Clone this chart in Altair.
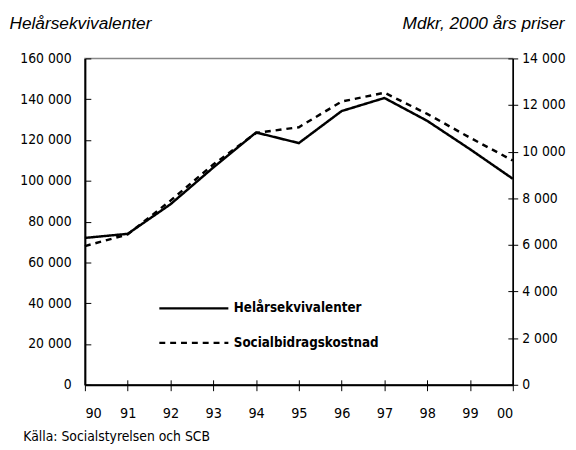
import altair as alt
import pandas as pd

years = [1990, 1991, 1992, 1993, 1994, 1995, 1996, 1997, 1998, 1999, 2000]
helarsekvivalenter = [72000, 74000, 88500, 106500, 123700, 118500, 134200, 140600, 129400, 115500, 101000]
socialbidragskostnad = [5950, 6450, 7900, 9450, 10800, 11050, 12150, 12530, 11620, 10600, 9620]
series_names = ["Helårsekvivalenter", "Socialbidragskostnad"]
left_ticks = [0, 20000, 40000, 60000, 80000, 100000, 120000, 140000, 160000]
right_ticks = [0, 2000, 4000, 6000, 8000, 10000, 12000, 14000]

df = pd.DataFrame({"year": years, "helar": helarsekvivalenter, "kostnad": socialbidragskostnad})
df["s1"] = series_names[0]
df["s2"] = series_names[1]

W, H = 434, 331
NARROW = "DejaVu Sans Condensed, sans-serif"
ITALIC = "Liberation Sans, Arial, sans-serif"
num_expr = "replace(format(datum.value, ','), ',', ' ')"

xscale = alt.Scale(domain=[1990, 2000], nice=False, zero=False)
lscale = alt.Scale(domain=[0, 160000], nice=False)
rscale = alt.Scale(domain=[0, 14000], nice=False)

x_main = alt.X(
    "year:Q", scale=xscale,
    axis=alt.Axis(
        orient="bottom", values=years, format="d", labelExpr="substring(datum.label, 2)",
        title="Källa: Socialstyrelsen och SCB", titleX=-63, titleY=57,
        titleAlign="left", titleBaseline="alphabetic", titleFont=NARROW,
        titleFontSize=14, titleFontWeight="normal", titleColor="black",
        labelFont=NARROW, labelFontSize=14.5, labelColor="black", labelPadding=16,
        tickSize=6, tickColor="black", tickWidth=1,
        domainColor="black", domainWidth=2, grid=False,
    ),
)
# inward half of the crossing x ticks
x_inner = alt.X(
    "year:Q", scale=xscale,
    axis=alt.Axis(
        orient="top", offset=-H, values=years, labels=False, domain=False,
        title=None, tickSize=5, tickColor="black", tickWidth=1, grid=False,
    ),
)


def make_legend(ly):
    return alt.Legend(
        orient="none", legendX=74, legendY=ly, title=None,
        symbolType="stroke", symbolSize=4900, symbolStrokeWidth=2.5,
        symbolStrokeColor="black", labelFont=NARROW, labelFontSize=13.5,
        labelFontWeight="bold", labelColor="black", labelOffset=4, padding=0,
    )


solid = alt.Chart(df).mark_line(color="black", strokeWidth=2.5).encode(
    x=x_main,
    y=alt.Y(
        "helar:Q", scale=lscale,
        axis=alt.Axis(
            orient="left", values=left_ticks, labelExpr=num_expr,
            title="Helårsekvivalenter", titleAngle=0, titleAlign="left",
            titleBaseline="alphabetic", titleX=-77, titleY=-30,
            titleFont=ITALIC, titleFontStyle="italic", titleFontWeight="normal",
            titleFontSize=17.5, titleColor="black",
            labelFont=NARROW, labelFontSize=14, labelColor="black", labelPadding=14,
            ticks=False, domainColor="black", domainWidth=2, grid=False,
        ),
    ),
    strokeDash=alt.StrokeDash(
        "s1:N", scale=alt.Scale(domain=[series_names[0]], range=[[1, 0]]),
        legend=make_legend(217),
    ),
)
# inward ticks of the left axis
solid_ticks = alt.Chart(df).mark_rule(opacity=0).encode(
    y=alt.Y(
        "helar:Q", scale=lscale,
        axis=alt.Axis(
            orient="right", offset=-W, values=left_ticks, labels=False, domain=False,
            title=None, tickSize=6, tickColor="black", grid=False,
        ),
    ),
)
xtick_layer = alt.Chart(df).mark_rule(opacity=0).encode(x=x_inner)

dashed = alt.Chart(df).mark_line(color="black", strokeWidth=2.5).encode(
    x=alt.X("year:Q", scale=xscale, axis=None),
    y=alt.Y(
        "kostnad:Q", scale=rscale,
        axis=alt.Axis(
            orient="right", values=right_ticks, labelExpr=num_expr,
            title="Mdkr, 2000 års priser", titleAngle=0, titleAlign="right",
            titleBaseline="alphabetic", titleX=52, titleY=-30,
            titleFont=ITALIC, titleFontStyle="italic", titleFontWeight="normal",
            titleFontSize=17.5, titleColor="black",
            labelFont=NARROW, labelFontSize=14, labelColor="black", labelPadding=4,
            tickSize=5, tickColor="black", domainColor="black", domainWidth=1.5, grid=False,
        ),
    ),
    strokeDash=alt.StrokeDash(
        "s2:N", scale=alt.Scale(domain=[series_names[1]], range=[[6, 5]]),
        legend=make_legend(252),
    ),
)
# inward half of the crossing right-axis ticks
dashed_ticks = alt.Chart(df).mark_rule(opacity=0).encode(
    y=alt.Y(
        "kostnad:Q", scale=rscale,
        axis=alt.Axis(
            orient="left", offset=-W, values=right_ticks, labels=False, domain=False,
            title=None, tickSize=5, tickColor="black", grid=False,
        ),
    ),
)

chart = (
    alt.layer(
        alt.layer(solid, solid_ticks, xtick_layer),
        alt.layer(dashed, dashed_ticks),
    )
    .resolve_scale(y="independent", strokeDash="independent")
    .properties(
        width=W, height=H,
        autosize=alt.AutoSizeParams(type="none"),
        padding={"left": 78, "top": 48, "right": 56, "bottom": 63},
        background="white",
    )
    .configure_view(stroke="#888888", strokeWidth=1.5)
)

chart.save("out.html", embed_options={"renderer": "svg", "actions": False})
